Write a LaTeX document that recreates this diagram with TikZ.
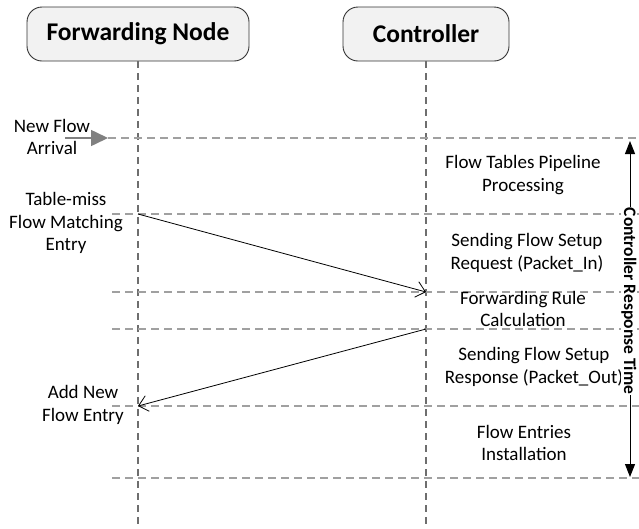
\documentclass[tikz,border=0pt]{standalone}
\usepackage{fontspec}
\setmainfont{Carlito}
\usetikzlibrary{arrows.meta}
\definecolor{boxfill}{HTML}{F2F2F2}
\definecolor{lifegray}{HTML}{6E6E6E}
\definecolor{sepgray}{HTML}{A0A0A0}
\definecolor{arrgray}{HTML}{808080}
\tikzset{
  header/.style={draw=black!80, fill=boxfill, rounded corners=15pt, line width=0.9pt,
    minimum height=54pt, font=\fontsize{25.5pt}{28pt}\selectfont\bfseries, inner sep=0pt},
  lifeline/.style={draw=lifegray, line width=1.1pt, dash pattern=on 7pt off 5pt},
  sepline/.style={draw=sepgray, line width=1.1pt, dash pattern=on 8pt off 5pt},
  msg/.style={draw=black, line width=0.8pt, -{Straight Barb[length=9pt,width=16pt,line width=0.8pt]}},
  lbl/.style={align=center, font=\fontsize{19pt}{22.5pt}\selectfont, inner sep=0pt},
}
\begin{document}
\begin{tikzpicture}[x=1pt,y=-1pt]
\useasboundingbox (0,0) rectangle (639,528);
\node[header, minimum width=222pt] (fn) at (138,34) {Forwarding Node};
\node[header, minimum width=166pt] (ct) at (426,34) {Controller};
\coordinate (fnb) at (138,528);
\coordinate (ctb) at (426,528);
\draw[lifeline] (fn.south) -- (fnb);
\draw[lifeline] (ct.south) -- (ctb);
% separators
\coordinate (s1l) at (108,138); \coordinate (s1r) at (639,138);
\coordinate (s2l) at (112,214); \coordinate (s2r) at (639,214);
\coordinate (s3l) at (112,292); \coordinate (s3r) at (639,292);
\coordinate (s4l) at (112,329); \coordinate (s4r) at (639,329);
\coordinate (s5l) at (112,406); \coordinate (s5r) at (639,406);
\coordinate (s6l) at (112,478); \coordinate (s6r) at (639,478);
\foreach \i in {1,...,6} {\draw[sepline] (s\i l) -- (s\i r);}
% new flow arrow
\coordinate (nfa) at (65,138);
\draw[draw=arrgray, line width=1.6pt, -{Triangle[length=17pt,width=16pt]}] (nfa) -- (s1l);
% messages
\coordinate (m1a) at (138,214); \coordinate (m1b) at (426,292);
\coordinate (m2a) at (426,329); \coordinate (m2b) at (138,406);
\draw[msg] (m1a) -- (m1b);
\draw[msg] (m2a) -- (m2b);
% left labels
\node[lbl] (t1) at (52,137) {New Flow\\Arrival};
\node[lbl] (t2) at (66,223) {Table-miss\\Flow Matching\\Entry};
\node[lbl] (t3) at (83,405) {Add New\\Flow Entry};
% right labels
\node[lbl] (r1) at (523,175) {Flow Tables Pipeline\\Processing};
\node[lbl] (r2) at (527,253) {Sending Flow Setup\\Request (Packet\_In)};
\node[lbl] (r3) at (523,309) {Forwarding Rule\\Calculation};
\node[lbl] (r4) at (534,367) {Sending Flow Setup\\Response (Packet\_Out)};
\node[lbl] (r5) at (524,443) {Flow Entries\\Installation};
% response time
\coordinate (rta) at (630,477);
\coordinate (rtb) at (630,141);
\draw[line width=1pt, {Triangle[length=13pt,width=10pt]}-{Triangle[length=13pt,width=10pt]}] (rta) -- (rtb);
\node[fill=white, rotate=-90, inner xsep=1pt, inner ysep=0pt, font=\fontsize{17.5pt}{21pt}\selectfont\bfseries] (rt) at (629,301) {Controller Response Time};
\end{tikzpicture}
\end{document}
